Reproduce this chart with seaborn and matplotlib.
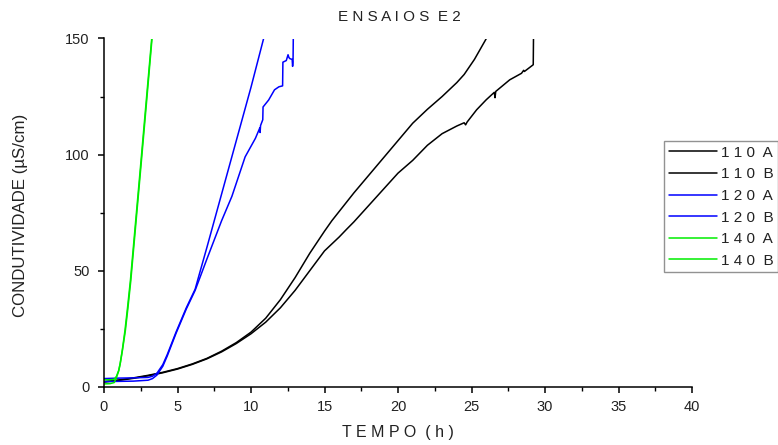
import numpy as np
import pandas as pd
import seaborn as sns
import matplotlib
matplotlib.use("Agg")
import matplotlib.pyplot as plt
from matplotlib.ticker import MultipleLocator
from matplotlib.lines import Line2D

# ---- data ----
labels = ["110 A", "110 B", "120 A", "120 B", "140 A", "140 B"]

t_110a = [0, 1, 2, 3, 4, 5, 6, 7, 8, 9, 10, 11, 12, 13, 14, 15, 15.5, 16, 17, 18,
          19, 20, 21, 22, 23, 24, 24.5, 25.2, 26.1]
c_110a = [2.2, 2.9, 3.8, 4.9, 6.2, 7.8, 9.8, 12.2, 15.3, 19.0, 23.5, 29.5, 37.5, 47.0,
          57.5, 67.0, 71.5, 75.5, 83.5, 91.0, 98.5, 106.0, 113.5, 119.5, 125.0, 131.0,
          134.5, 141.0, 151.0]

t_110b = [0, 1, 2, 3, 4, 5, 6, 7, 8, 9, 10, 11, 12, 13, 14, 15, 16, 16.5, 17, 18, 19,
          20, 21, 22, 23, 24, 24.5, 24.6, 24.7, 25.35, 26.0, 26.55, 26.6, 26.65, 27.6,
          28.4, 28.55, 28.6, 29.2, 29.22]
c_110b = [2.0, 2.7, 3.6, 4.7, 6.0, 7.6, 9.6, 12.0, 15.0, 18.6, 22.8, 27.8, 34.0, 41.5,
          50.0, 58.5, 64.5, 67.8, 71.0, 78.0, 85.0, 92.0, 97.5, 104.0, 109.0, 112.3,
          113.7, 112.8, 114.0, 119.3, 123.6, 126.8, 124.5, 127.2, 132.2, 135.0, 136.3,
          135.8, 138.7, 152.0]

t_120a = [0, 0.5, 1, 2, 3, 3.3, 3.6, 4.0, 4.3, 4.9, 5.6, 6.2, 6.5, 7, 8, 9, 10, 10.9]
c_120a = [3.5, 3.6, 3.7, 3.8, 4.0, 4.5, 5.8, 9.5, 13.8, 23.5, 34.0, 42.0, 48.8, 60.0,
          83.0, 106.0, 129.0, 151.0]

t_120b = [0, 1, 2, 3, 3.3, 3.6, 4.0, 4.3, 4.9, 5.6, 6.2, 7.0, 8.0, 8.7, 9.6, 10.3,
          10.6, 10.62, 10.65, 10.8, 10.82, 11.2, 11.6, 11.9, 12.15, 12.17, 12.4, 12.52,
          12.58, 12.65, 12.8, 12.83, 12.86, 12.88]
c_120b = [2.2, 2.3, 2.4, 2.8, 3.5, 5.0, 8.8, 13.2, 23.0, 33.5, 41.5, 55.0, 71.5, 82.0,
          99.0, 107.0, 111.5, 109.5, 112.5, 115.0, 120.5, 123.5, 127.9, 129.2, 129.6,
          139.8, 140.5, 143.0, 141.8, 141.3, 141.0, 138.0, 140.0, 152.0]

t_140a = [0, 0.4, 0.7, 0.85, 1.0, 1.1, 1.25, 1.43, 1.6, 1.8, 2.15, 2.5, 2.9, 3.26]
c_140a = [3.0, 3.0, 3.2, 4.5, 7.0, 10.0, 16.0, 24.4, 34.0, 46.0, 71.0, 96.0, 125.0, 151.0]

t_140b = [0, 0.4, 0.7, 0.85, 1.0, 1.1, 1.25, 1.45, 1.62, 1.82, 2.17, 2.52, 2.92, 3.28]
c_140b = [1.2, 1.3, 1.8, 4.0, 6.8, 9.8, 15.5, 24.0, 33.5, 45.5, 70.5, 95.5, 124.5, 151.0]

series_t = [t_110a, t_110b, t_120a, t_120b, t_140a, t_140b]
series_c = [c_110a, c_110b, c_120a, c_120b, c_140a, c_140b]
colors = ["#000000", "#000000", "#0000ff", "#0000ff", "#00ee00", "#00ee00"]

x_ticks = [0, 5, 10, 15, 20, 25, 30, 35, 40]
y_ticks = [0, 50, 100, 150]

title_text = "ENSAIOS E2"
x_label = "TEMPO (h)"
y_label = "CONDUTIVIDADE (µS/cm)"


def spaced(s):
    """Emulate the wide letter spacing of the original rendering."""
    return " ".join(list(s)).replace("   ", "  ")


# ---- long table ----
frames = []
for lab, tt, cc in zip(labels, series_t, series_c):
    frames.append(pd.DataFrame({"t": tt, "c": cc, "serie": lab}))
df = pd.concat(frames, ignore_index=True)

sns.set_theme(style="ticks")
plt.rcParams["font.family"] = ["Liberation Sans", "DejaVu Sans"]

fig = plt.figure(figsize=(7.78, 4.45), dpi=100)
ax = fig.add_axes([104 / 778, 1 - 386.7 / 445, (692 - 104) / 778, (386.7 - 38.5) / 445])

palette = dict(zip(labels, colors))
sns.lineplot(data=df, x="t", y="c", hue="serie", palette=palette, sort=False,
             estimator=None, linewidth=1.1, legend=False, ax=ax)

ax.set_xlim(0, 40)
ax.set_ylim(0, 150)
ax.set_xticks(x_ticks)
ax.set_yticks(y_ticks)
ax.xaxis.set_minor_locator(MultipleLocator(2.5))
ax.yaxis.set_minor_locator(MultipleLocator(25))
for s in ["top", "right"]:
    ax.spines[s].set_visible(False)
for s in ["left", "bottom"]:
    ax.spines[s].set_linewidth(1.1)
    ax.spines[s].set_color("black")
ax.tick_params(axis="both", which="major", direction="out", length=4.5, width=1.1,
               colors="black", labelsize=10.5, labelcolor="#222222")
ax.tick_params(axis="both", which="minor", direction="out", length=2.8, width=1.0,
               colors="black")
ax.tick_params(axis="y", which="major", pad=6)
ax.tick_params(axis="x", which="major", pad=5)

ax.set_xlabel("")
ax.set_ylabel("")
fig.text(397.5 / 778, 1 - 433 / 445, spaced(x_label), ha="center", va="center",
         fontsize=11.5, color="#222222")
fig.text(21 / 778, 1 - 215 / 445, y_label, ha="center", va="center",
         rotation=90, fontsize=12.2, color="#222222")
fig.text(399.5 / 778, 1 - 17 / 445, spaced(title_text), ha="center", va="center",
         fontsize=11, color="#222222")

handles = [Line2D([0], [0], color=c, lw=1.1) for c in colors]
leg = fig.legend(handles, [spaced(l) for l in labels], loc="upper left",
                 bbox_to_anchor=(664 / 778, 1 - 141 / 445), frameon=True,
                 fancybox=False, fontsize=11, handlelength=3.2, handletextpad=0.2,
                 labelspacing=0.5, borderpad=0.3, borderaxespad=0)
leg.get_frame().set_edgecolor("#777777")
leg.get_frame().set_linewidth(1.0)
for txt in leg.get_texts():
    txt.set_color("#222222")

fig.savefig("out.png", dpi=100)
